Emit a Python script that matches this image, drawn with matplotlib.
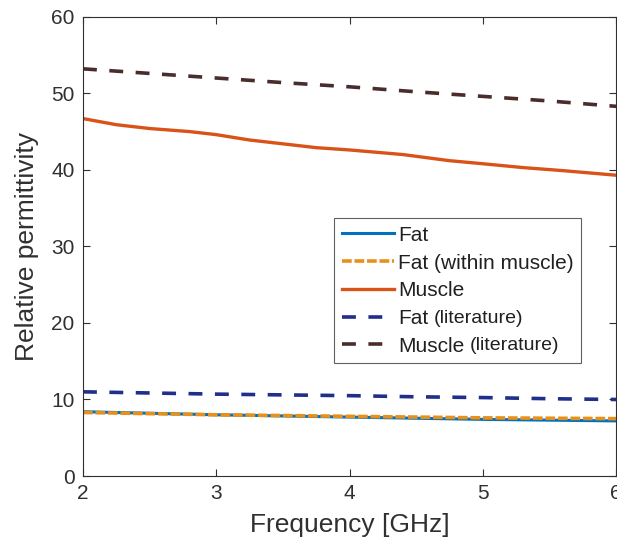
import matplotlib.pyplot as plt

plt.rcParams["font.family"] = ["Liberation Sans", "DejaVu Sans"]
plt.rcParams["lines.scale_dashes"] = False

# frequency grids [GHz]
freq_fat = [2.0, 2.5, 3.0, 3.5, 4.0, 4.5, 5.0, 5.5, 6.0]
fat = [8.4, 8.2, 8.0, 7.85, 7.7, 7.55, 7.4, 7.3, 7.2]
fat_within = [8.3, 8.15, 8.0, 7.9, 7.8, 7.7, 7.6, 7.55, 7.5]

freq_muscle = [2.0, 2.25, 2.5, 2.8, 3.0, 3.25, 3.5, 3.75, 4.0, 4.4, 4.75, 5.0, 5.3, 5.6, 6.0]
muscle = [46.7, 45.9, 45.4, 45.0, 44.6, 43.9, 43.4, 42.9, 42.6, 42.0, 41.2, 40.8, 40.3, 39.9, 39.3]

freq_lit = [2.0, 2.5, 3.0, 3.5, 4.0, 4.5, 5.0, 5.5, 6.0]
fat_lit = [11.0, 10.85, 10.7, 10.6, 10.5, 10.35, 10.25, 10.1, 10.0]
muscle_lit = [53.2, 52.6, 52.0, 51.4, 50.85, 50.2, 49.6, 49.0, 48.3]

fig = plt.figure(figsize=(6.17, 5.5), dpi=100)
ax = fig.add_axes([0.1345, 0.1345, 0.864, 0.835])

ax.plot(freq_fat, fat, color="#0072BD", lw=2.2, label="Fat")
ax.plot(freq_fat, fat_within, color="#E8901C", lw=2.6, dashes=(7, 2),
        label="Fat (within muscle)")
ax.plot(freq_muscle, muscle, color="#D95319", lw=2.4, label="Muscle")
ax.plot(freq_lit, fat_lit, color="#1F2F8A", lw=2.6, dashes=(10, 9), label="Fat")
ax.plot(freq_lit, muscle_lit, color="#4A2C2C", lw=2.6, dashes=(10, 9), label="Muscle")

ax.set_xlim(2, 6)
ax.set_ylim(0, 60)
ax.set_xticks([2, 3, 4, 5, 6])
ax.set_yticks([0, 10, 20, 30, 40, 50, 60])
ax.tick_params(direction="in", top=True, right=True, length=5, width=0.8,
               labelsize=15, colors="#303030", pad=6)
for s in ax.spines.values():
    s.set_color("#303030")
    s.set_linewidth(0.8)

ax.set_xlabel("Frequency [GHz]", fontsize=19, color="#303030", labelpad=7)
ax.set_ylabel("Relative permittivity", fontsize=19, color="#303030", labelpad=9)

leg = ax.legend(loc="lower right", bbox_to_anchor=(0.934, 0.246), fontsize=15,
                handlelength=2.5, handletextpad=0.2, labelspacing=0.42,
                borderpad=0.35, borderaxespad=0, fancybox=False, framealpha=1,
                edgecolor="#606060")
leg.get_frame().set_linewidth(0.8)
texts = leg.get_texts()
for t in texts:
    t.set_color("#202020")
for t in texts[3:]:
    ax.annotate("(literature)", xy=(1, 0), xycoords=t, xytext=(4, 1),
                textcoords="offset points", fontsize=14, color="#202020",
                va="bottom", ha="left", zorder=10)

fig.savefig("out.png", dpi=100)
plt.close(fig)
